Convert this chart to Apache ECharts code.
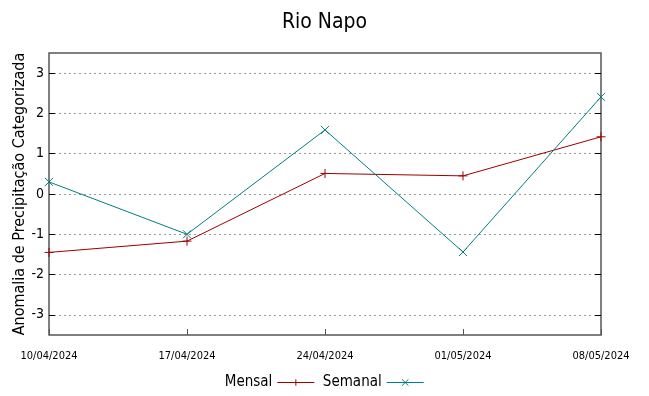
<!DOCTYPE html>
<html><head><meta charset="utf-8">
<script src="https://cdn.jsdelivr.net/npm/echarts@6/dist/echarts.min.js"></script>
<style>html,body{margin:0;padding:0;background:#fff}#c{width:649px;height:396px}</style>
</head><body><div id="c"></div>
<script>
const categories = ['10/04/2024','17/04/2024','24/04/2024','01/05/2024','08/05/2024'];
const mensal = [-1.45, -1.17, 0.51, 0.45, 1.42];
const semanal = [0.30, -1.00, 1.59, -1.44, 2.41];
const yTicks = [-3,-2,-1,0,1,2,3];
const title = 'Rio Napo';
const yName = 'Anomalia de Precipitação Categorizada';

const FONT = '"Liberation Sans Narrow","DejaVu Sans Condensed","Liberation Sans",sans-serif';
const red = '#a00000', teal = '#008080';
const plus = 'path://M0,5L10,5M5,0L5,10';
const cross = 'path://M0,0L10,10M10,0L0,10';

const chart = echarts.init(document.getElementById('c'), null, {renderer:'canvas'});
chart.setOption({
  animation:false,
  backgroundColor:'#fff',
  title:{text:title,left:'center',top:7,textStyle:{fontFamily:FONT,fontSize:21,fontWeight:'normal',color:'#000'}},
  grid:{left:49,right:48,top:53,bottom:61,containLabel:false,outerBoundsMode:'none',show:true,borderColor:'#555',borderWidth:1.5,backgroundColor:'transparent'},
  legend:{bottom:1,left:'center',align:'right',itemWidth:37,itemHeight:8,itemGap:8,
    textStyle:{fontFamily:FONT,fontSize:15,color:'#000'},
    lineStyle:{width:1},itemStyle:{borderWidth:1},
    data:[{name:'Mensal'},{name:'Semanal'}]},
  xAxis:{type:'category',data:categories,boundaryGap:false,
    axisLine:{show:false,onZero:false},
    axisTick:{inside:true,length:6,lineStyle:{color:'#555'}},
    axisLabel:{fontFamily:FONT,fontSize:11,color:'#000',margin:16,showMinLabel:true,showMaxLabel:true,interval:0},
    splitLine:{show:false}},
  yAxis:[{type:'value',min:-3.5,max:3.5,
    name:yName,nameLocation:'middle',nameGap:21,nameRotate:90,nameMoveOverlap:false,
    nameTextStyle:{fontFamily:FONT,fontSize:16,color:'#000'},
    axisLine:{show:false,onZero:false},
    axisTick:{show:true,inside:true,length:6,customValues:yTicks,lineStyle:{color:'#000'}},
    axisLabel:{customValues:yTicks,fontFamily:FONT,fontSize:14,color:'#000',margin:5},
    splitLine:{show:true,lineStyle:{color:'#999',type:[2,3],width:1}}},
   {type:'value',min:-3.5,max:3.5,position:'right',
    axisLine:{show:false,onZero:false},
    axisTick:{show:true,inside:true,length:6,customValues:yTicks,lineStyle:{color:'#000'}},
    axisLabel:{show:false},splitLine:{show:false}}],
  series:[
    {name:'Mensal',type:'line',data:mensal,symbol:plus,symbolSize:9,showAllSymbol:true,
      lineStyle:{color:red,width:1},itemStyle:{color:'rgba(0,0,0,0)',borderColor:red,borderWidth:1}},
    {name:'Semanal',type:'line',data:semanal,symbol:cross,symbolSize:8,showAllSymbol:true,
      lineStyle:{color:teal,width:1},itemStyle:{color:'rgba(0,0,0,0)',borderColor:teal,borderWidth:1}}
  ]
});
</script></body></html>
